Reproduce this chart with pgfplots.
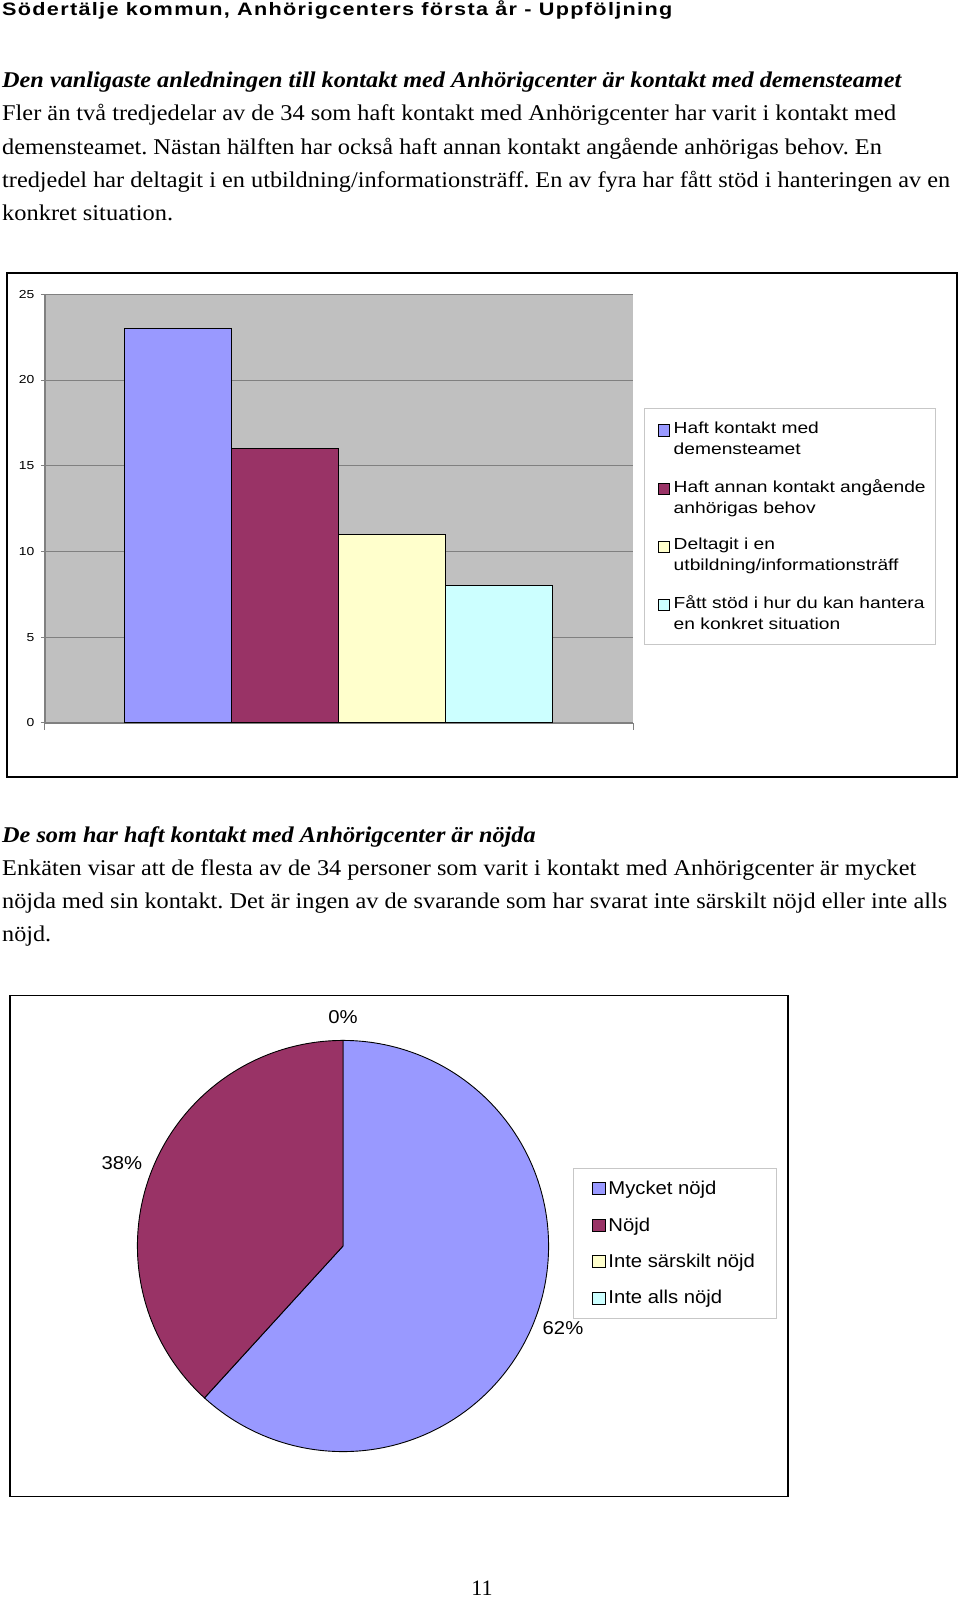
\documentclass[border=0pt]{standalone}
\usepackage{fontspec}
\usepackage{graphicx}
\usepackage{pgfplots}
\usepackage{pgfplotstable}
\pgfplotsset{compat=1.18}
\setmainfont{Liberation Serif}
\newfontfamily\hdrfont[LetterSpace=6]{Liberation Sans}
\newfontfamily\barfont[FakeStretch=1.2]{Liberation Sans}
\newfontfamily\piefont[FakeStretch=1.09]{Liberation Sans}
\definecolor{cA}{HTML}{9999FF}
\definecolor{cB}{HTML}{993366}
\definecolor{cC}{HTML}{FFFFCC}
\definecolor{cD}{HTML}{CCFFFF}
\definecolor{plotgray}{HTML}{C0C0C0}
\definecolor{gridgray}{HTML}{808080}
\frenchspacing

\pgfplotstableread{
pos value
133.0 23
240.1 16
347.3 11
454.4 8
}\bartable

\pgfplotstableread{
category value
Mycket 21
Nojd 13
Inte 0
Alls 0
}\pietable

\newcommand\fitline[4]{\node[anchor=base west, inner sep=0pt] at (2pt,-#1pt) {\resizebox{#2pt}{\height}{\fontsize{22.5}{26}\selectfont#3#4}};}

\begin{document}
\begin{tikzpicture}
\path[use as bounding box] (0pt,0pt) rectangle (960pt,-1597pt);

% header
\node[anchor=base west, inner sep=0pt] at (2pt,-15.5pt) {\resizebox{670pt}{\height}{\hdrfont\bfseries\fontsize{18}{20}\selectfont Södertälje kommun, Anhörigcenters första år - Uppföljning}};

% first text block
\fitline{87.5}{899}{\bfseries\itshape}{Den vanligaste anledningen till kontakt med Anhörigcenter är kontakt med demensteamet}
\fitline{121}{894}{}{Fler än två tredjedelar av de 34 som haft kontakt med Anhörigcenter har varit i kontakt med}
\fitline{154.6}{879.6}{}{demensteamet. Nästan hälften har också haft annan kontakt angående anhörigas behov. En}
\fitline{188}{948}{}{tredjedel har deltagit i en utbildning/informationsträff. En av fyra har fått stöd i hanteringen av en}
\fitline{221}{171}{}{konkret situation.}

% second text block
\fitline{842}{533.5}{\bfseries\itshape}{De som har haft kontakt med Anhörigcenter är nöjda}
\fitline{875}{914}{}{Enkäten visar att de flesta av de 34 personer som varit i kontakt med Anhörigcenter är mycket}
\fitline{908}{945}{}{nöjda med sin kontakt. Det är ingen av de svarande som har svarat inte särskilt nöjd eller inte alls}
\fitline{941.6}{49}{}{nöjd.}

% page number
\node[anchor=base, inner sep=0pt, font=\fontsize{22}{24}\selectfont] at (482pt,-1595pt) {11};

% chart frames
\draw[line width=1.6pt] (7.1pt,-272.8pt) rectangle (957pt,-776.8pt);
\draw[line width=1.6pt] (10.2pt,-995.6pt) rectangle (788pt,-1496.5pt);

% ---------------- bar chart ----------------
\begin{axis}[
  at={(44.8pt,-722.8pt)}, anchor=south west,
  scale only axis, width=588.4pt, height=428.6pt,
  xmin=0, xmax=588.4, ymin=0, ymax=25,
  axis background/.style={fill=plotgray},
  axis x line*=bottom, axis y line*=left,
  axis line style={draw=gridgray, line width=1.6pt},
  ytick={0,5,10,15,20,25},
  xtick={0,588.4}, xticklabels={},
  ymajorgrids, grid style={draw=gridgray, line width=0.8pt},
  tick align=outside,
  major tick length=4pt,
  tick style={draw=gridgray, line width=0.8pt},
  xtick style={/pgfplots/major tick length=7pt},
  /pgf/number format/assume math mode=true,
  yticklabel style={font=\barfont\fontsize{11.6}{13}\selectfont, xshift=-3pt},
  ybar, bar shift=0pt, bar width=107.15,
  legend cell align=left,
  legend style={at={(1.019,0.734)}, anchor=north west, draw=black!22, line width=0.8pt, fill=white,
    font=\barfont\fontsize{16}{21.4}\selectfont,
    nodes={align=left, inner xsep=4pt, inner ysep=2pt},
    row sep=19pt, inner xsep=6pt, inner ysep=11pt},
  sqlegend/.style={legend image code/.code={\path (0pt,8.5pt); \draw[##1, draw=black, line width=0.7pt, yshift=8.5pt] (7pt,-5.6pt) rectangle (18.2pt,5.6pt);}},
]
\addplot[fill=cA, draw=black, line width=0.8pt, sqlegend] table[x=pos, y=value, restrict expr to domain={\coordindex}{0:0}] {\bartable};
\addlegendentry{Haft kontakt med\\demensteamet}
\addplot[fill=cB, draw=black, line width=0.8pt, sqlegend] table[x=pos, y=value, restrict expr to domain={\coordindex}{1:1}] {\bartable};
\addlegendentry{Haft annan kontakt angående\\anhörigas behov}
\addplot[fill=cC, draw=black, line width=0.8pt, sqlegend] table[x=pos, y=value, restrict expr to domain={\coordindex}{2:2}] {\bartable};
\addlegendentry{Deltagit i en\\utbildning/informationsträff}
\addplot[fill=cD, draw=black, line width=0.8pt, sqlegend] table[x=pos, y=value, restrict expr to domain={\coordindex}{3:3}] {\bartable};
\addlegendentry{Fått stöd i hur du kan hantera\\en konkret situation}
\end{axis}

% ---------------- pie chart ----------------
\pgfplotstablegetelem{0}{value}\of\pietable \edef\vA{\pgfplotsretval}
\pgfplotstablegetelem{1}{value}\of\pietable \edef\vB{\pgfplotsretval}
\pgfplotstablegetelem{2}{value}\of\pietable \edef\vC{\pgfplotsretval}
\pgfplotstablegetelem{3}{value}\of\pietable \edef\vD{\pgfplotsretval}
\pgfmathsetmacro\tot{\vA+\vB+\vC+\vD}
\pgfmathsetmacro\aA{90-360*\vA/\tot}
\pgfmathsetmacro\aB{\aA-360*\vB/\tot}
\begin{axis}[
  at={(343pt,-1246pt)}, anchor=center,
  x=205.6pt, y=205.6pt,
  xmin=-1.5, xmax=1.5, ymin=-1.5, ymax=1.5,
  hide axis, clip=false,
  legend cell align=left,
  legend style={at={(0.873,0.627)}, anchor=north west, draw=black!22, line width=0.8pt, fill=white,
    font=\piefont\fontsize{18.6}{22}\selectfont,
    nodes={inner xsep=3pt, inner ysep=2pt},
    row sep=17.5pt, inner xsep=19pt, inner ysep=11pt},
  legend image code/.code={\draw[#1, draw=black, line width=0.7pt] (0pt,-6.1pt) rectangle (12.2pt,6.1pt);},
]
\addplot[fill=cA, draw=black, line width=0.9pt, domain=\aA:90, samples=150, variable=\t] ({cos(\t)},{sin(\t)}) -- (axis cs:0,0) -- cycle;
\addlegendentry{Mycket nöjd}
\addplot[fill=cB, draw=black, line width=0.9pt, domain=\aB:\aA, samples=100, variable=\t] ({cos(\t)},{sin(\t)}) -- (axis cs:0,0) -- cycle;
\addlegendentry{Nöjd}
\addlegendimage{fill=cC, draw=black}
\addlegendentry{Inte särskilt nöjd}
\addlegendimage{fill=cD, draw=black}
\addlegendentry{Inte alls nöjd}
\node[font=\piefont\fontsize{18.6}{22}\selectfont] at (axis cs:0,1.114) {0\%};
\node[font=\piefont\fontsize{18.6}{22}\selectfont] at (axis cs:-1.075,0.401) {38\%};
\node[font=\piefont\fontsize{18.6}{22}\selectfont] at (axis cs:1.070,-0.401) {62\%};
\end{axis}
\end{tikzpicture}
\end{document}
